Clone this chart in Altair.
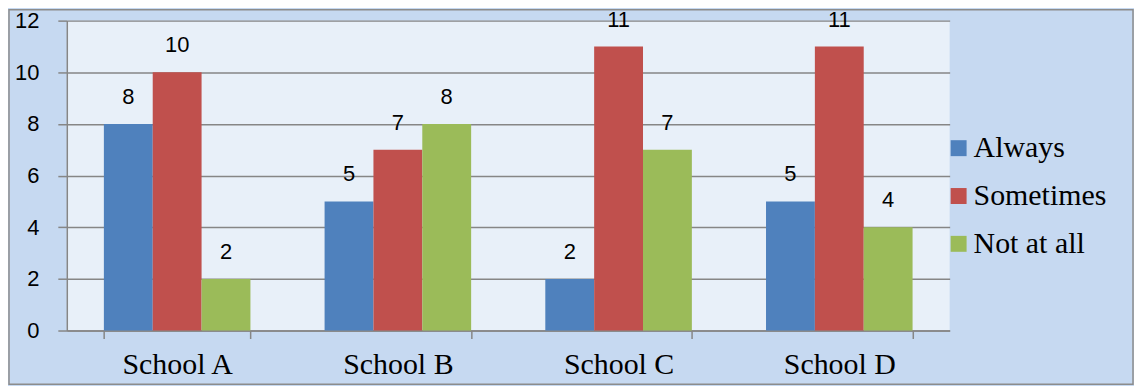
import altair as alt
import pandas as pd

schools = ["School A", "School B", "School C", "School D"]
responses = ["Always", "Sometimes", "Not at all"]
always = [8, 5, 2, 5]
sometimes = [10, 7, 11, 11]
not_at_all = [2, 8, 7, 4]
colors = ["#4F81BD", "#C0504D", "#9BBB59"]
y_ticks = [0, 2, 4, 6, 8, 10, 12]

rows = []
for i, s in enumerate(schools):
    for r, vals in zip(responses, [always, sometimes, not_at_all]):
        rows.append({"School": s, "Response": r, "Value": vals[i]})
df = pd.DataFrame(rows)

GRAY = "#868686"

base = alt.Chart(df).encode(
    x=alt.X(
        "School:N",
        sort=schools,
        scale=alt.Scale(paddingInner=0.336, paddingOuter=0.168),
        axis=alt.Axis(
            title=None, labelAngle=0, tickBand="extent", tickSize=8,
            tickColor=GRAY, domainColor=GRAY, domainWidth=1.5, tickWidth=1.5,
            labelFont="Liberation Serif", labelFontSize=30, labelColor="#000000",
            labelPadding=11, grid=False,
        ),
    ),
    xOffset=alt.XOffset("Response:N", sort=responses, scale=alt.Scale(paddingInner=0, paddingOuter=0)),
    y=alt.Y(
        "Value:Q",
        scale=alt.Scale(domain=[0, 12], nice=False),
        axis=alt.Axis(
            title=None, values=y_ticks, grid=True, gridColor=GRAY, gridWidth=1.5,
            domainColor=GRAY, domainWidth=1.5, tickColor=GRAY, tickWidth=1.5, tickSize=9,
            labelFont="Liberation Sans", labelFontSize=22, labelColor="#000000",
            labelPadding=19,
        ),
    ),
)

bars = base.mark_bar().encode(
    color=alt.Color(
        "Response:N",
        sort=responses,
        scale=alt.Scale(domain=responses, range=colors),
        legend=alt.Legend(
            title=None, orient="none", legendX=880, legendY=113,
            symbolType="square", symbolSize=256, symbolStrokeWidth=0,
            labelFont="Liberation Serif", labelFontSize=30, labelColor="#000000",
            rowPadding=18, labelOffset=0,
        ),
    )
)

labels = base.mark_text(
    baseline="bottom", dy=-15, font="Liberation Sans", fontSize=22, color="#000000"
).encode(text="Value:Q")

border = alt.Chart(pd.DataFrame({"a": [0]})).mark_rect(
    fillOpacity=0, stroke="#8C8C8C", strokeWidth=1.5
).encode(
    x=alt.value(-58), x2=alt.value(1070), y=alt.value(-11), y2=alt.value(365)
)

chart = alt.layer(bars, labels, border).properties(
    width=886,
    height=311,
    autosize=alt.AutoSizeParams(type="none"),
    padding={"left": 59, "top": 12, "right": 185, "bottom": 55},
    background="#C6D9F1",
).configure_view(fill="#E8F0F9", stroke=None)

chart.save("out.html", embed_options={"renderer": "svg", "actions": False})
